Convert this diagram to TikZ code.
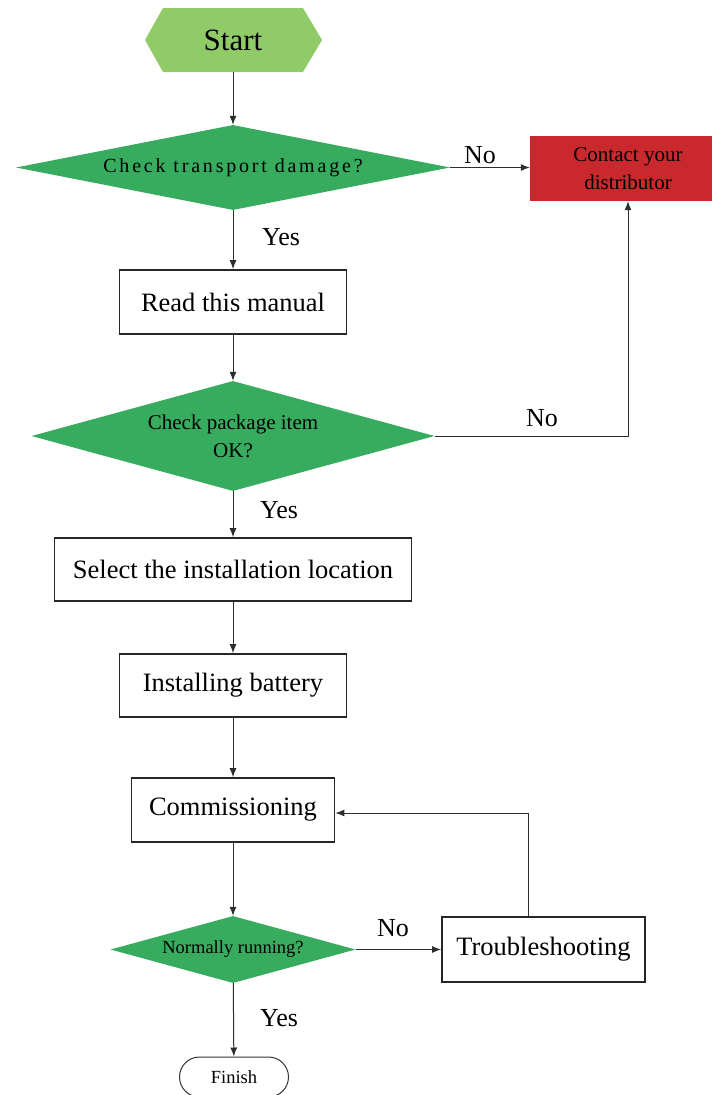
\documentclass[tikz,border=0pt]{standalone}
\usepackage{fontspec}
\setmainfont{Liberation Serif}
\newfontfamily\spacedfont[LetterSpace=14]{Liberation Serif}
\usetikzlibrary{shapes.geometric,arrows.meta,calc}
\definecolor{lightgreen}{RGB}{144,203,104}
\definecolor{dgreen}{RGB}{55,171,94}
\definecolor{cred}{RGB}{201,40,44}
\definecolor{lineg}{RGB}{45,45,45}
\begin{document}
\begin{tikzpicture}[x=1pt,y=-1pt,
  box/.style={draw=black!85, line width=1.8pt, rectangle, inner sep=0pt, font=\fontsize{26.5}{30}\selectfont},
  decision/.style={diamond, fill=dgreen, inner sep=0pt, align=center},
  conn/.style={draw=lineg, line width=1pt, -{Latex[length=9pt,width=7pt]}},
  lbl/.style={font=\fontsize{26}{30}\selectfont, inner sep=0pt}
]
\fill[white] (0,0) rectangle (712,1095);
\clip (0,0) rectangle (712,1095);

% Start hexagon
\fill[lightgreen] (145,40) -- (163,8) -- (303,8) -- (322,40) -- (303,72) -- (163,72) -- cycle;
\node[minimum width=177pt, minimum height=64pt, inner sep=0pt, font=\fontsize{31}{34}\selectfont] (start) at (233,40) {Start};

\node[decision, aspect=5.1, minimum width=434pt, minimum height=85pt, font=\spacedfont\fontsize{20}{24}\selectfont] (d1) at (233,167.5) {Check transport damage?};
\node[rectangle, fill=cred, minimum width=196pt, minimum height=65pt, align=center, inner sep=0pt, font=\fontsize{21}{28}\selectfont] (contact) at (628,168.5) {Contact your\\distributor};

\node[box, minimum width=227pt, minimum height=64pt] (read) at (233,302) {Read this manual};
\node[decision, aspect=3.66, minimum width=403pt, minimum height=110pt, font=\fontsize{21}{28}\selectfont] (d2) at (233,436) {Check package item\\OK?};
\node[box, minimum width=357pt, minimum height=63pt] (select) at (233,569.5) {Select the installation location};
\node[box, minimum width=227pt, minimum height=63pt] (battery) at (233,685.5) {Installing battery};
\node[box, minimum width=203pt, minimum height=64pt] (commission) at (233,810) {Commissioning};
\node[decision, aspect=3.66, minimum width=245pt, minimum height=67pt, font=\fontsize{18.5}{22}\selectfont] (d3) at (233,949.5) {Normally running?};
\node[box, minimum width=203pt, minimum height=65pt] (trouble) at (543.5,949.5) {Troubleshooting};
\node[rectangle, rounded corners=20pt, draw=black!80, line width=1pt, minimum width=109pt, minimum height=40pt, inner sep=0pt, font=\fontsize{18.5}{22}\selectfont] (finish) at (234,1077) {Finish};

% connectors
\draw[conn] (start) -- (d1);
\draw[conn] (d1.east) -- (d1.east -| contact.west);
\draw[conn] (d1) -- (read);
\draw[conn] (read) -- (d2);
\draw[conn] (d2.east) -| (contact.south);
\draw[conn] (d2) -- (select);
\draw[conn] (select) -- (battery);
\draw[conn] (battery) -- (commission);
\draw[conn] (commission) -- (d3);
\draw[conn] (d3) -- (trouble);
\draw[conn] ([xshift=-15.5pt]trouble.north) |- ([yshift=-3pt]commission.east);
\draw[conn] (d3) -- (finish);

% labels
\node[lbl] (no1) at (480,155) {No};
\node[lbl] (yes1) at (281,237) {Yes};
\node[lbl] (no2) at (542,418) {No};
\node[lbl] (yes2) at (279,510.5) {Yes};
\node[lbl] (no3) at (393,928.5) {No};
\node[lbl] (yes3) at (279,1018.5) {Yes};
\end{tikzpicture}
\end{document}
